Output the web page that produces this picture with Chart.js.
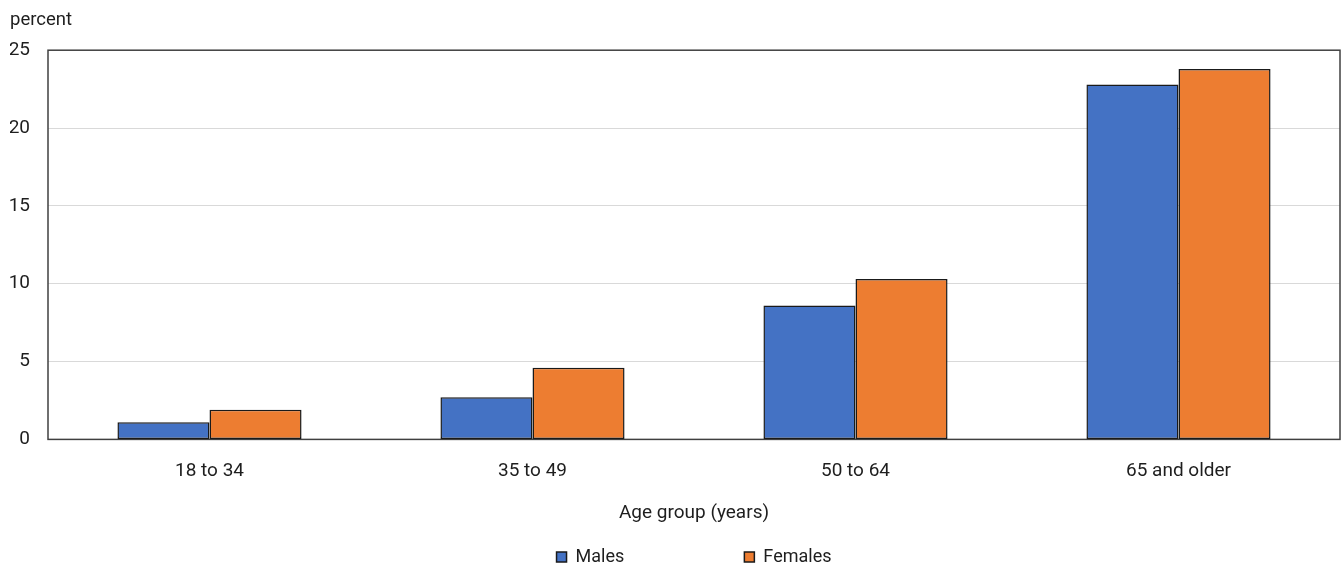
<!DOCTYPE html>
<html>
<head>
<meta charset="utf-8">
<script src="https://cdn.jsdelivr.net/npm/chart.js@4/dist/chart.umd.min.js"></script>
<style>
    html, body { margin: 0; padding: 0; background: #ffffff; }
    #wrap { width: 1341px; height: 567px; position: relative; }
</style>
</head>
<body>
<div id="wrap"><canvas id="ageChart"></canvas></div>
<script>
const ageGroups = ["18 to 34", "35 to 49", "50 to 64", "65 and older"];
const malesValues = [1.1, 2.7, 8.6, 22.8];
const femalesValues = [1.9, 4.6, 10.3, 23.8];
const seriesLabels = ["Males", "Females"];
const yTicks = [0, 5, 10, 15, 20, 25];
const unitLabel = "percent";
const xAxisLabel = "Age group (years)";

const FONT = "Roboto, 'Liberation Sans', sans-serif";
Chart.defaults.font.family = FONT;
Chart.defaults.font.size = 19;
Chart.defaults.color = "#1e1e1e";

// box around the plot area, like the original
const plotFrame = {
    id: "plotFrame",
    beforeDatasetsDraw(chart) {
        const { ctx, chartArea } = chart;
        ctx.save();
        ctx.strokeStyle = "#404040";
        ctx.lineWidth = 1.5;
        ctx.strokeRect(chartArea.left, chartArea.top, chartArea.right - chartArea.left, chartArea.bottom - chartArea.top);
        ctx.restore();
    }
};

const ctx = document.getElementById("ageChart").getContext("2d");
new Chart(ctx, {
    type: "bar",
    data: {
        labels: ageGroups,
        datasets: [
            {
                label: seriesLabels[0],
                data: malesValues,
                backgroundColor: "#4472C4",
                borderColor: "#1a1a1a",
                borderWidth: 1.5,
                borderSkipped: false
            },
            {
                label: seriesLabels[1],
                data: femalesValues,
                backgroundColor: "#ED7D31",
                borderColor: "#1a1a1a",
                borderWidth: 1.5,
                borderSkipped: false
            }
        ]
    },
    options: {
        responsive: true,
        maintainAspectRatio: false,
        animation: false,
        categoryPercentage: 0.57,
        barPercentage: 1.0,
        layout: { padding: { left: 10, right: 1, top: 0, bottom: -9 } },
        plugins: {
            title: {
                display: true,
                text: unitLabel,
                align: "start",
                font: { size: 18.5, weight: "normal" },
                color: "#1e1e1e",
                padding: { top: 9, bottom: 19 }
            },
            legend: {
                position: "bottom",
                fullSize: false,
                labels: {
                    boxWidth: 10,
                    boxHeight: 10,
                    padding: 10,
                    font: { size: 18 },
                    color: "#1e1e1e",
                    generateLabels(chart) {
                        const items = Chart.defaults.plugins.legend.labels.generateLabels(chart);
                        // wide gap between the two entries, as in the original
                        items[0].text = items[0].text + "\u2002".repeat(12);
                        return items;
                    }
                }
            },
            tooltip: { enabled: false }
        },
        scales: {
            x: {
                grid: { display: false, drawTicks: false },
                border: { display: false },
                ticks: { padding: 20, color: "#1e1e1e" },
                title: {
                    display: true,
                    text: xAxisLabel,
                    color: "#1e1e1e",
                    font: { size: 19 },
                    padding: { top: 0, bottom: 13 }
                }
            },
            y: {
                min: yTicks[0],
                max: yTicks[yTicks.length - 1],
                afterBuildTicks(axis) {
                    axis.ticks = yTicks.map(v => ({ value: v }));
                },
                afterFit(axis) {
                    axis.width = 38;
                },
                grid: { color: "#d9d9d9", lineWidth: 1, drawTicks: false },
                border: { display: false },
                ticks: { padding: 18, color: "#1e1e1e" }
            }
        }
    },
    plugins: [plotFrame]
});
</script>
</body>
</html>
